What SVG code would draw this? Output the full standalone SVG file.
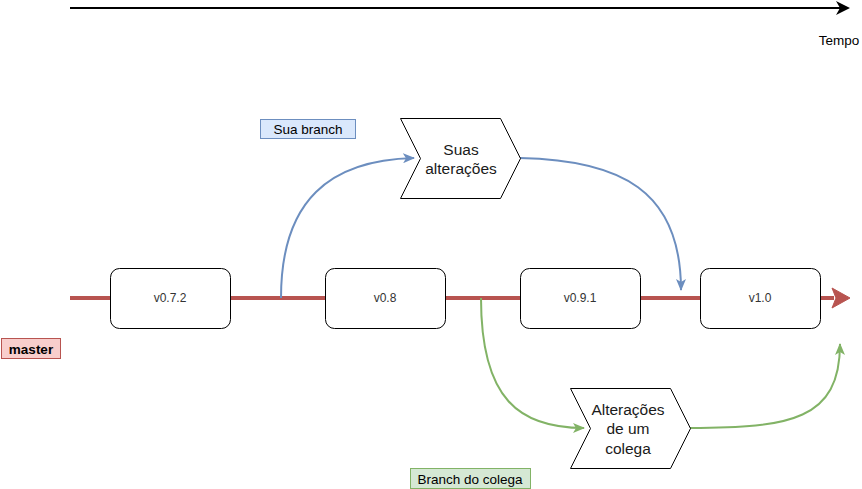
<svg xmlns="http://www.w3.org/2000/svg" width="862" height="489" viewBox="0 0 862 489">
<style>
text{font-family:"Liberation Sans",Arial,sans-serif;fill:#000;text-anchor:middle;dominant-baseline:central}
.box{fill:#fff;stroke:#000;stroke-width:1}
.ver{font-size:12px;fill:#333}
.step{font-size:15.5px;fill:#1a1a1a}
.lbl{font-size:13.5px}
.blue{fill:none;stroke:#6c8ebf;stroke-width:2}
.green{fill:none;stroke:#82b366;stroke-width:2}
</style>
<defs>
<marker id="ab" viewBox="0 0 12 10" refX="11" refY="5" markerWidth="12" markerHeight="10" markerUnits="userSpaceOnUse" orient="auto">
<path d="M0,0 L12,5 L0,10 L3,5 Z" fill="#6c8ebf"/>
</marker>
<marker id="ag" viewBox="0 0 12 10" refX="11" refY="5" markerWidth="12" markerHeight="10" markerUnits="userSpaceOnUse" orient="auto">
<path d="M0,0 L12,5 L0,10 L3,5 Z" fill="#82b366"/>
</marker>
</defs>
<g id="time">
<line x1="70" y1="8" x2="840" y2="8" stroke="#000" stroke-width="2"/>
<path d="M850,8 L836,1 L840,8 L836,15 Z" fill="#000"/>
<text x="839" y="40" class="lbl">Tempo</text>
</g>
<g id="connectors">
<line x1="70" y1="298" x2="834" y2="298" stroke="#b85450" stroke-width="4"/>
<path d="M850,298 L832,288 L836,298 L832,308 Z" fill="#b85450" stroke="#b85450" stroke-width="1"/>
<path class="blue" d="M281,298 C281,200 330,160 414,158" marker-end="url(#ab)"/>
<path class="blue" d="M520,158 C620,160 681,190 681,290" marker-end="url(#ab)"/>
<path class="green" d="M481,298 C481,400 520,428 584,428" marker-end="url(#ag)"/>
<path class="green" d="M690,428 C790,428 840,420 840,344" marker-end="url(#ag)"/>
</g>
<g id="v072"><rect class="box" x="110.5" y="268.5" width="120" height="60" rx="9"/><text x="170" y="298" class="ver">v0.7.2</text></g>
<g id="v08"><rect class="box" x="325.5" y="268.5" width="120" height="60" rx="9"/><text x="385" y="298" class="ver">v0.8</text></g>
<g id="v091"><rect class="box" x="520.5" y="268.5" width="120" height="60" rx="9"/><text x="580" y="298" class="ver">v0.9.1</text></g>
<g id="v10"><rect class="box" x="700.5" y="268.5" width="120" height="60" rx="9"/><text x="760" y="298" class="ver">v1.0</text></g>
<g id="suas"><path class="box" d="M400.5,118.5 L500.5,118.5 L520.5,158.5 L500.5,198.5 L400.5,198.5 L420.5,158.5 Z"/>
<text x="461" y="149" class="step">Suas</text><text x="461" y="168" class="step">alterações</text></g>
<g id="colega"><path class="box" d="M570.5,388.5 L670.5,388.5 L690.5,428.5 L670.5,468.5 L570.5,468.5 L590.5,428.5 Z"/>
<text x="628" y="409" class="step">Alterações</text><text x="628" y="428" class="step">de um</text><text x="628" y="448" class="step">colega</text></g>
<g id="master"><rect x="1.5" y="338.5" width="59" height="20" fill="#f8cecc" stroke="#b85450"/><text x="31" y="349" class="lbl" font-weight="bold">master</text></g>
<g id="suabranch"><rect x="260.5" y="119.5" width="95" height="19" fill="#dae8fc" stroke="#6c8ebf"/><text x="308" y="129" class="lbl">Sua branch</text></g>
<g id="branchcolega"><rect x="410.5" y="468.5" width="120" height="20" fill="#d5e8d4" stroke="#82b366"/><text x="470" y="479" class="lbl">Branch do colega</text></g>
</svg>
